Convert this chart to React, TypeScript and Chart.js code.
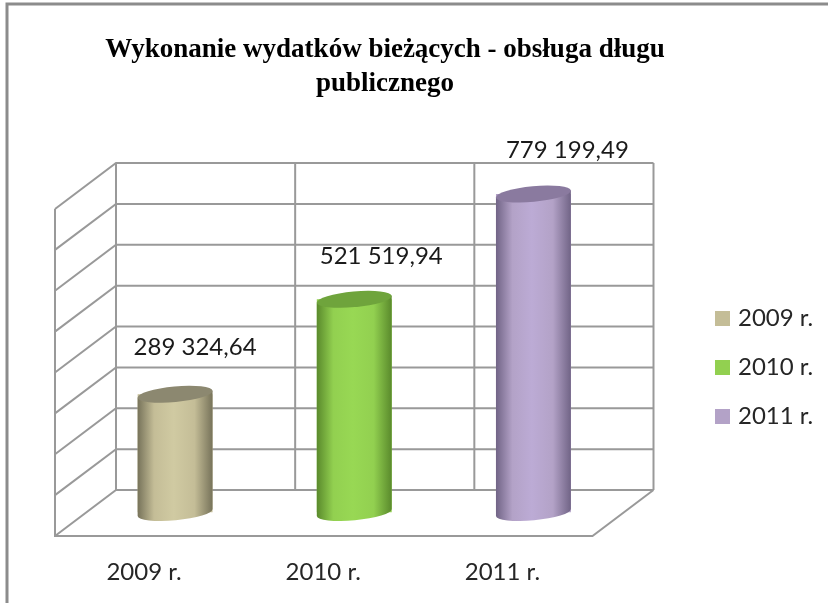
import React, { useEffect, useRef } from "react";
import { Chart, registerables } from "chart.js";

Chart.register(...registerables);

const categories = ["2009 r.", "2010 r.", "2011 r."];
const values2009 = [289324.64, null, null];
const values2010 = [null, 521519.94, null];
const values2011 = [null, null, 779199.49];
const valueLabels = ["289 324,64", "521 519,94", "779 199,49"];
const titleLines = ["Wykonanie wydatków bieżących - obsługa długu", "publicznego"];
const solidColors = ["#c4bd97", "#92d050", "#b3a2c7"];
const lightColors = ["#d0caa2", "#98d854", "#bcabd5"];
const darkColors = ["#77735a", "#5a8a2c", "#716486"];
const capColors = ["#8c8870", "#6fa43c", "#8a7a9f"];
const labelOffsets = [[20, -47], [27, -43], [34, -44]];

const GRID = "#999999";
const TILT = 0.092;
const BACK = { dx: 30.5, dy: -22.5 };
const FRONT = { dx: -30.5, dy: 23.5 };
const LEGEND_WIDTH = 100;

const wallsPlugin = {
  id: "walls",
  beforeLayout(chart: any) {
    const l = chart.legend;
    if (l && !l.__fixed) {
      const fit = l.fit;
      l.fit = function () {
        fit.call(this);
        this.width = LEGEND_WIDTH;
      };
      l.__fixed = true;
    }
  },
  beforeDraw(chart: any) {
    const { ctx, width, height } = chart;
    ctx.save();
    ctx.fillStyle = "#ffffff";
    ctx.fillRect(0, 0, width, height);
    ctx.strokeStyle = "#8c8c8c";
    ctx.lineWidth = 3;
    ctx.beginPath();
    ctx.moveTo(7, height);
    ctx.lineTo(7, 4);
    ctx.lineTo(width, 4);
    ctx.stroke();
    ctx.restore();
    const t = chart.titleBlock;
    t.left = 0;
    t.right = 770;
    const l = chart.legend;
    l.left = 694;
    l.right = 828;
    l.top = 281.5;
    l.bottom = height;
  },
  beforeDatasetsDraw(chart: any) {
    const { ctx, chartArea, scales } = chart;
    const y = scales.y;
    const { left, right } = chartArea;
    const bl = left + BACK.dx, br = right + BACK.dx;
    const fl = left + FRONT.dx, fr = right + FRONT.dx;
    ctx.save();
    ctx.strokeStyle = GRID;
    ctx.lineWidth = 2;
    ctx.beginPath();
    y.ticks.forEach((t: any) => {
      const p = y.getPixelForValue(t.value);
      ctx.moveTo(br, p + BACK.dy);
      ctx.lineTo(bl, p + BACK.dy);
      ctx.lineTo(fl, p + FRONT.dy);
    });
    const top = y.getPixelForValue(y.max);
    const zero = y.getPixelForValue(0);
    for (let i = 0; i <= categories.length; i++) {
      const x = bl + (i * (right - left)) / categories.length;
      ctx.moveTo(x, top + BACK.dy);
      ctx.lineTo(x, zero + BACK.dy);
    }
    ctx.moveTo(fl, top + FRONT.dy);
    ctx.lineTo(fl, zero + FRONT.dy);
    ctx.lineTo(fr, zero + FRONT.dy);
    ctx.lineTo(br, zero + BACK.dy);
    ctx.stroke();
    ctx.restore();
  },
  afterDatasetsDraw(chart: any) {
    const { ctx } = chart;
    chart.data.datasets.forEach((_: any, i: number) => {
      const bar = chart.getDatasetMeta(i).data[i];
      const { x, y, base, width } = bar.getProps(["x", "y", "base", "width"], true);
      const hw = width / 2;
      const a = hw / Math.cos(TILT);
      const b = 7.8;
      const rise = hw * Math.tan(TILT);
      const g = ctx.createLinearGradient(x - hw, 0, x + hw, 0);
      g.addColorStop(0, darkColors[i]);
      g.addColorStop(0.22, solidColors[i]);
      g.addColorStop(0.48, lightColors[i]);
      g.addColorStop(0.76, solidColors[i]);
      g.addColorStop(1, darkColors[i]);
      ctx.save();
      ctx.fillStyle = g;
      ctx.beginPath();
      ctx.moveTo(x - hw, y + rise);
      ctx.lineTo(x - hw, base + rise);
      ctx.ellipse(x, base, a, b, -TILT, Math.PI, 0, true);
      ctx.lineTo(x + hw, y - rise);
      ctx.closePath();
      ctx.fill();
      ctx.fillStyle = capColors[i];
      ctx.beginPath();
      ctx.ellipse(x, y, a, b, -TILT, 0, Math.PI * 2);
      ctx.fill();
      ctx.fillStyle = "#1a1a1a";
      ctx.font = "24px Lato";
      ctx.textAlign = "center";
      ctx.textBaseline = "middle";
      ctx.fillText(valueLabels[i], x + labelOffsets[i][0], y + labelOffsets[i][1]);
      ctx.restore();
    });
  },
};

export default function App() {
  const ref = useRef<HTMLCanvasElement>(null);
  useEffect(() => {
    const chart = new Chart(ref.current!, {
      type: "bar",
      data: {
        labels: categories,
        datasets: [
          { label: "2009 r.", data: values2009, backgroundColor: solidColors[0] },
          { label: "2010 r.", data: values2010, backgroundColor: solidColors[1] },
          { label: "2011 r.", data: values2011, backgroundColor: solidColors[2] },
        ],
      },
      options: {
        animation: false,
        responsive: false,
        layout: { padding: { left: 85.5, right: 105, top: 0, bottom: 0 } },
        datasets: { bar: { barPercentage: 0.418, categoryPercentage: 1 } },
        scales: {
          x: {
            stacked: true,
            grid: { display: false },
            border: { display: false },
            ticks: {
              color: "#262626",
              font: { family: "Lato", size: 24 },
              labelOffset: -31,
              padding: 37,
              maxRotation: 0,
            },
            afterFit(s: any) {
              s.height = 90.5;
            },
          },
          y: {
            display: false,
            min: 0,
            max: 800000,
            ticks: { stepSize: 100000 },
          },
        },
        plugins: {
          tooltip: { enabled: false },
          title: {
            display: true,
            text: titleLines,
            color: "#000000",
            font: { family: "Liberation Serif", size: 27, weight: "bold", lineHeight: 34 / 27 },
            padding: { top: 33, bottom: 84.5 },
          },
          legend: {
            position: "right",
            align: "start",
            labels: {
              boxWidth: 7,
              boxHeight: 7,
              padding: 25,
              color: "#262626",
              font: { family: "Lato", size: 24 },
              generateLabels(chart: any) {
                return Chart.defaults.plugins.legend.labels
                  .generateLabels(chart)
                  .map((item: any) => ({ ...item, lineWidth: 8, strokeStyle: item.fillStyle }));
              },
            },
          },
        },
      } as any,
      plugins: [wallsPlugin],
    });
    return () => chart.destroy();
  }, []);
  return (
    <div style={{ position: "absolute", left: 0, top: 0, width: 828, height: 603 }}>
      <canvas ref={ref} width={828} height={603} style={{ display: "block" }} />
    </div>
  );
}
